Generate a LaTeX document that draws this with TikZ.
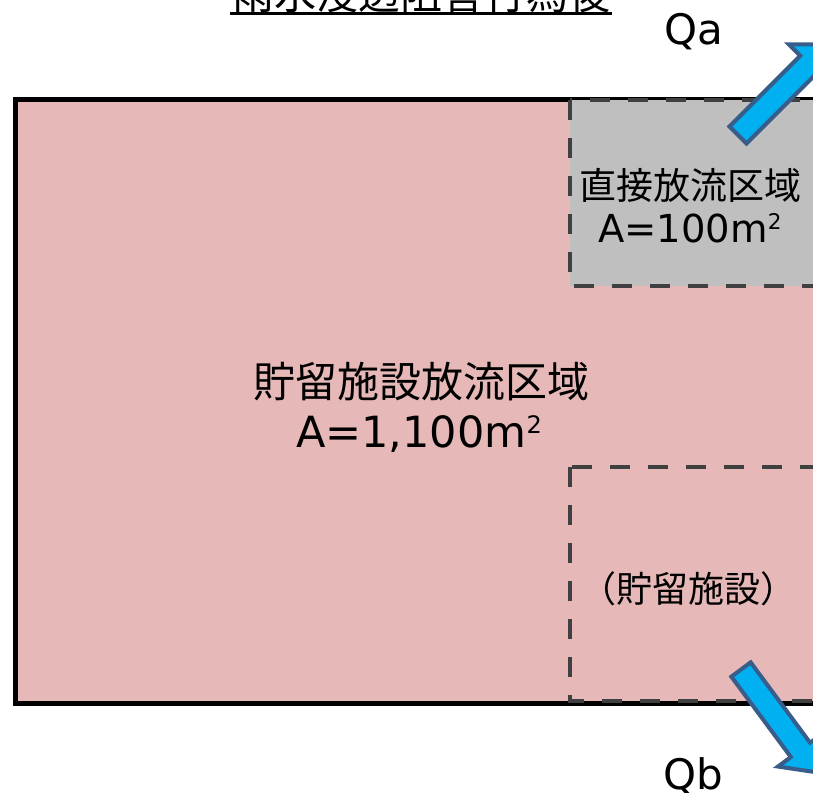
\documentclass[tikz,border=0pt]{standalone}
\usepackage{fontspec}
\setmainfont{DejaVu Sans}
\newfontfamily\jpfont{Noto Sans CJK JP}
\newcommand\sqtwo{\raisebox{0.33em}{\scalebox{0.56}{2}}}
\definecolor{pinkfill}{HTML}{E6B8B7}
\definecolor{grayfill}{HTML}{BFBFBF}
\definecolor{dashgray}{HTML}{404040}
\definecolor{arrowblue}{HTML}{00B0F0}
\definecolor{arrowedge}{HTML}{385D8A}
\tikzset{
  regionbox/.style={line width=4pt, draw=dashgray, dash pattern=on 20pt off 18pt},
  flowarrow/.style={fill=arrowblue, draw=arrowedge, line width=4pt, line join=miter},
  lbl/.style={inner sep=0pt, anchor=center, text=black},
}
\begin{document}
\begin{tikzpicture}[x=1pt, y=-1pt]
\useasboundingbox (0,0) rectangle (813,792);
% main area
\draw[fill=pinkfill, line width=5pt] (15,99.5) rectangle (860,703);
% direct discharge area
\draw[regionbox, fill=grayfill] (570,100) rectangle (860,286);
% storage facility area
\draw[regionbox] (570,467) rectangle (860,701);
% arrows
\begin{scope}[shift={(738,135)}, rotate=45]
  \draw[flowarrow] (0,-12) -- (100,-12) -- (100,-28) -- (128,0) -- (100,28) -- (100,12) -- (0,12) -- cycle;
\end{scope}
\begin{scope}[shift={(741,669.5)}, rotate=-53.5]
  \draw[flowarrow] (0,-12) -- (100,-12) -- (100,-28) -- (128,0) -- (100,28) -- (100,12) -- (0,12) -- cycle;
\end{scope}
% title
\node[lbl, anchor=base, font=\jpfont\fontsize{42}{42}\selectfont] (title) at (421,9.5) {雨水浸透阻害行為後};
\draw[line width=2.7pt] ([xshift=-2pt, yshift=-4pt]title.base west) -- ([xshift=2pt, yshift=-4pt]title.base east);
% labels
\node[lbl, font=\jpfont\fontsize{42}{42}\selectfont] (maintitle) at (421,382) {貯留施設放流区域};
\node[lbl, font=\fontsize{43}{43}\selectfont] (mainarea) at (419,434) {A=1,100m\sqtwo};
\node[lbl, font=\jpfont\fontsize{37}{37}\selectfont] (directtitle) at (690,185) {直接放流区域};
\node[lbl, font=\fontsize{38.5}{38.5}\selectfont] (directarea) at (690,228) {A=100m\sqtwo};
\node[lbl, font=\jpfont\fontsize{36}{36}\selectfont] (storage) at (688,589) {（貯留施設）};
\node[lbl, font=\fontsize{42}{42}\selectfont] (qa) at (694,32) {Qa};
\node[lbl, font=\fontsize{42}{42}\selectfont] (qb) at (693,776) {Qb};
\end{tikzpicture}
\end{document}
